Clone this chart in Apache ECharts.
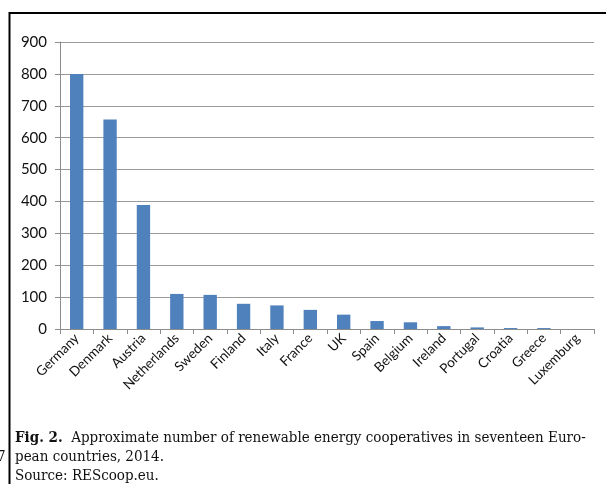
<!DOCTYPE html>
<html>
<head>
<meta charset="utf-8">
<script src="https://cdn.jsdelivr.net/npm/echarts@6/dist/echarts.min.js"></script>
<style>
  html, body { margin: 0; padding: 0; background: #fff; }
  #chart { width: 606px; height: 484px; }
</style>
</head>
<body>
<div id="chart"></div>
<script>
  // data
  let countries = ['Germany', 'Denmark', 'Austria', 'Netherlands', 'Sweden', 'Finland', 'Italy', 'France',
    'UK', 'Spain', 'Belgium', 'Ireland', 'Portugal', 'Croatia', 'Greece', 'Luxemburg'];
  let cooperatives = [800, 657, 389, 110, 107, 79, 74, 60, 45, 25, 21, 9, 5, 3, 3, 0];
  let yTicks = [0, 900, 100]; // min, max, step

  let chart = echarts.init(document.getElementById('chart'));
  let gray = '#8c8c8c';

  let option = {
    animation: false,
    grid: { left: 60, right: 12, top: 42, bottom: 155 },
    xAxis: {
      type: 'category',
      data: countries,
      axisLine: { lineStyle: { color: gray, width: 1 } },
      axisTick: { show: true, alignWithLabel: false, length: 5, lineStyle: { color: gray } },
      axisLabel: {
        rotate: 45, interval: 0, margin: 7,
        color: '#111', fontFamily: 'Lato', fontSize: 13.5
      },
    },
    yAxis: {
      type: 'value',
      min: yTicks[0], max: yTicks[1], interval: yTicks[2],
      axisLine: { show: true, lineStyle: { color: gray } },
      axisTick: { show: true, length: 5, lineStyle: { color: gray } },
      splitLine: { lineStyle: { color: '#9a9a9a', width: 1 } },
      axisLabel: { color: '#111', fontFamily: 'Lato', fontSize: 15, margin: 13 },
    },
    series: [{
      type: 'bar',
      data: cooperatives,
      barWidth: '40%',
      itemStyle: { color: '#4f81bd' },
    }],
    graphic: [
      // frame
      { type: 'line', shape: { x1: 9, y1: 13, x2: 606, y2: 13 }, style: { stroke: '#000', lineWidth: 2 } },
      { type: 'line', shape: { x1: 9.5, y1: 12, x2: 9.5, y2: 484 }, style: { stroke: '#000', lineWidth: 2 } },
      // caption
      {
        type: 'text', left: 15, top: 429,
        style: {
          text: '{b|Fig. 2.}  Approximate number of renewable energy cooperatives in seventeen Euro-\npean countries, 2014.\nSource: REScoop.eu.',
          font: '15px "DejaVu Serif Condensed"', fill: '#111', lineHeight: 19,
          rich: { b: { fontWeight: 'bold', fontFamily: 'DejaVu Serif Condensed', fontSize: 15 } }
        }
      },
      { type: 'text', left: -3, top: 450, style: { text: '7', font: '15px "DejaVu Serif Condensed"', fill: '#111' } },
    ],
  };

  chart.setOption(option);
</script>
</body>
</html>
